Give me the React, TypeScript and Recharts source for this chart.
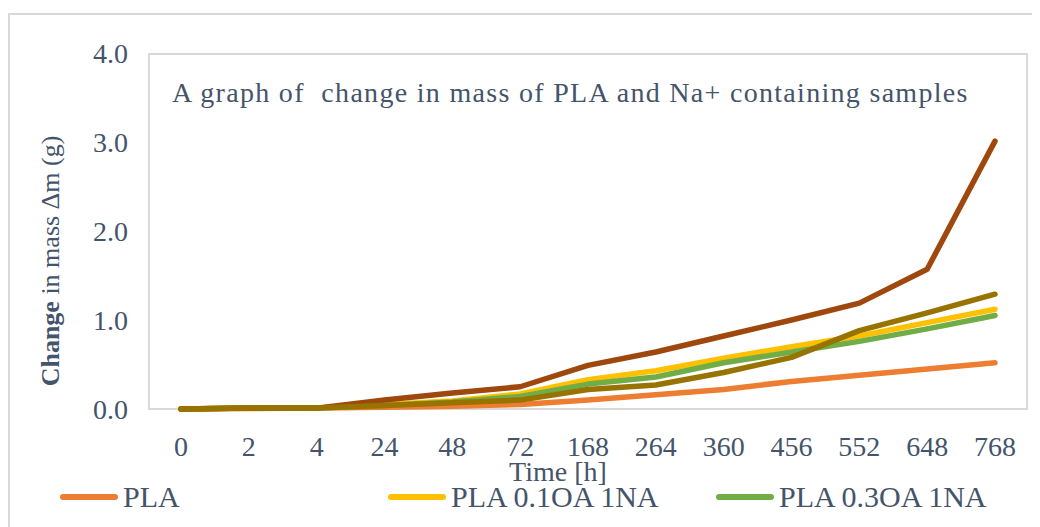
import { Line, LineChart, XAxis, YAxis } from "recharts"

// time points (hours) on the category axis
const HOURS = ["0", "2", "4", "24", "48", "72", "168", "264", "360", "456", "552", "648", "768"]

// change in mass (g)
const PLA = [0, 0.005, 0.01, 0.02, 0.03, 0.05, 0.1, 0.16, 0.22, 0.31, 0.38, 0.45, 0.52]
const PLA_01OA = [0, 0.01, 0.01, 0.05, 0.09, 0.17, 0.33, 0.43, 0.57, 0.7, 0.82, 0.97, 1.12]
const PLA_03OA = [0, 0.01, 0.01, 0.04, 0.08, 0.14, 0.28, 0.36, 0.52, 0.64, 0.76, 0.9, 1.05]
const PLA_05OA = [0, 0.01, 0.01, 0.1, 0.18, 0.25, 0.49, 0.64, 0.82, 1.0, 1.19, 1.57, 3.01]
const PLA_1OA = [0, 0.01, 0.01, 0.04, 0.07, 0.1, 0.22, 0.27, 0.41, 0.58, 0.88, 1.08, 1.29]

const Y_TICKS = [0, 1, 2, 3, 4]

const SERIES = [
  { key: "pla", name: "PLA", color: "#ED7D31", values: PLA },
  { key: "pla01", name: "PLA 0.1OA 1NA", color: "#FFC000", values: PLA_01OA },
  { key: "pla03", name: "PLA 0.3OA 1NA", color: "#70AD47", values: PLA_03OA },
  { key: "pla05", name: "PLA 0.5OA 1NA", color: "#9E480E", values: PLA_05OA },
  { key: "pla1", name: "PLA 1OA 1NA", color: "#997300", values: PLA_1OA },
]
// the legend's second row falls outside the frame, only the first row shows
const LEGEND_VISIBLE = 3

const INK = "#44546A"
const BORDER = "#D9D9D9"
const FONT = '"Liberation Serif", "Times New Roman", serif'

const data = HOURS.map((t, i) => {
  const row: Record<string, string | number> = { t }
  SERIES.forEach((s) => (row[s.key] = s.values[i]))
  return row
})

function YTitle(props: any) {
  const vb = props.viewBox || { x: 0, y: 45, height: 356 }
  const cx = 51
  const cy = vb.y + vb.height / 2 + 30
  return (
    <text
      transform={`translate(${cx},${cy}) rotate(-90)`}
      textAnchor="middle"
      fill={INK}
      fontSize={26}
      fontFamily={FONT}
    >
      <tspan fontWeight="bold">Change</tspan> in mass Δm (g)
    </text>
  )
}

function XTitle(props: any) {
  const vb = props.viewBox || { x: 140, y: 401, width: 880 }
  return (
    <text x={vb.x + 410} y={vb.y + 72} textAnchor="middle" fill={INK} fontSize={28} fontFamily={FONT}>
      Time [h]
    </text>
  )
}

export default function App() {
  return (
    <div
      style={{
        position: "relative",
        width: 1032,
        height: 519,
        overflow: "hidden",
        fontFamily: FONT,
        background: "#fff",
      }}
    >
      {/* outer chart frame */}
      <div
        style={{
          position: "absolute",
          left: 0,
          top: 5,
          width: 1100,
          height: 600,
          borderTop: `2px solid ${BORDER}`,
          borderLeft: `2px solid ${BORDER}`,
        }}
      />
      {/* plot-area frame, sits under the lines */}
      <div
        style={{
          position: "absolute",
          left: 140,
          top: 45,
          width: 880,
          height: 357,
          boxSizing: "border-box",
          border: `2px solid ${BORDER}`,
        }}
      />
      <div
        style={{
          position: "absolute",
          left: 164,
          top: 71,
          fontSize: 28,
          lineHeight: "28px",
          letterSpacing: 1.3,
          color: INK,
          whiteSpace: "pre",
        }}
      >
        A graph of  change in mass of PLA and Na+ containing samples
      </div>
      <LineChart
        width={1032}
        height={519}
        data={data}
        margin={{ top: 45, right: 12, bottom: 58, left: 0 }}
        style={{ position: "absolute", left: 0, top: 0 }}
      >
        <XAxis
          dataKey="t"
          height={60}
          interval={0}
          padding={{ left: 33, right: 33 }}
          tickLine={false}
          axisLine={false}
          tickSize={0}
          tickMargin={27}
          tick={{ fill: INK, fontSize: 28, fontFamily: FONT }}
          label={{ content: XTitle }}
        />
        <YAxis
          width={140}
          domain={[0, 4]}
          ticks={Y_TICKS}
          tickFormatter={(v: number) => v.toFixed(1)}
          tickLine={false}
          axisLine={false}
          tickSize={0}
          tickMargin={20}
          tick={{ fill: INK, fontSize: 28, fontFamily: FONT }}
          label={{ content: YTitle }}
        />
        {SERIES.map((s) => (
          <Line
            key={s.key}
            dataKey={s.key}
            name={s.name}
            stroke={s.color}
            strokeWidth={5.5}
            strokeLinecap="round"
            strokeLinejoin="round"
            dot={false}
            isAnimationActive={false}
          />
        ))}
      </LineChart>
      <div
        style={{
          position: "absolute",
          left: 52,
          top: 473,
          width: 984,
          display: "flex",
        }}
      >
        {SERIES.slice(0, LEGEND_VISIBLE).map((s) => (
          <div key={s.key} style={{ width: 328, height: 32, display: "flex", alignItems: "center" }}>
            <span
              style={{
                display: "inline-block",
                width: 58,
                height: 6,
                borderRadius: 3,
                background: s.color,
                marginRight: 5,
              }}
            />
            <span style={{ fontSize: 30, color: INK, whiteSpace: "nowrap" }}>{s.name}</span>
          </div>
        ))}
      </div>
    </div>
  )
}
